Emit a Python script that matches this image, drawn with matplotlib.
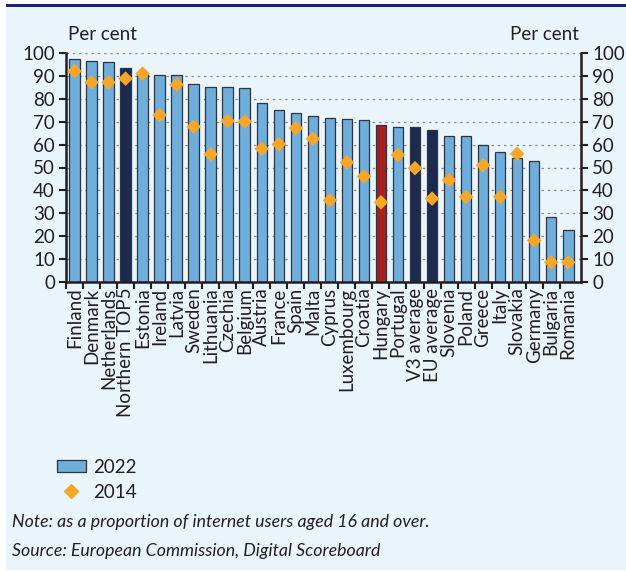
import matplotlib
matplotlib.use("Agg")
import matplotlib.pyplot as plt
from matplotlib.patches import Rectangle, Patch
from matplotlib.lines import Line2D
import numpy as np

plt.rcParams['font.family'] = ['Lato', 'DejaVu Sans']

countries = ["Finland", "Denmark", "Netherlands", "Northern TOP5", "Estonia", "Ireland",
             "Latvia", "Sweden", "Lithuania", "Czechia", "Belgium", "Austria", "France",
             "Spain", "Malta", "Cyprus", "Luxembourg", "Croatia", "Hungary", "Portugal",
             "V3 average", "EU average", "Slovenia", "Poland", "Greece", "Italy",
             "Slovakia", "Germany", "Bulgaria", "Romania"]
values_2022 = [97.4, 96.5, 95.9, 93.6, 91.0, 90.2, 90.2, 86.3, 85.3, 85.1, 84.5, 78.0,
               75.1, 73.6, 72.4, 71.4, 71.1, 70.6, 68.4, 67.9, 67.6, 66.3, 63.8, 63.8,
               59.8, 56.9, 54.1, 52.9, 28.3, 22.6]
values_2014 = [92.1, 87.2, 87.2, 88.8, 91.0, 72.9, 86.2, 67.8, 55.8, 70.3, 70.1, 58.2,
               60.2, 67.2, 62.5, 35.7, 52.3, 46.1, 34.8, 55.5, 49.7, 36.4, 44.5, 37.2,
               51.0, 37.2, 56.0, 18.1, 8.6, 8.6]
yticks = list(range(0, 101, 10))

LIGHT = "#6FAEDB"
NAVY = "#1B2A4E"
RED = "#A8201F"
ORANGE = "#F7A628"
BG = "#EAF4FB"
TXT = "#231F20"
FS = 13.5

highlight = {"Northern TOP5": NAVY, "V3 average": NAVY, "EU average": NAVY, "Hungary": RED}
colors = [highlight.get(c, LIGHT) for c in countries]

fig = plt.figure(figsize=(6.26, 5.72), dpi=100)
W, H = 626, 572
fig.patches.append(Rectangle((6 / W, 2 / H), 1 - 6 / W, (H - 7 - 2) / H,
                             transform=fig.transFigure, facecolor=BG, edgecolor="none", zorder=-2))
fig.patches.append(Rectangle((6 / W, (H - 7) / H), 1 - 6 / W, 3 / H,
                             transform=fig.transFigure, facecolor="#1A2370", edgecolor="none", zorder=-1))

ax = fig.add_axes([66 / W, 1 - 282 / H, (581 - 66) / W, (282 - 53) / H])
ax.set_facecolor("none")
x = np.arange(len(countries))
ax.bar(x, values_2022, width=0.62, color=colors, edgecolor="#2E3440", linewidth=0.9, zorder=2)
ax.scatter(x, values_2014, marker="D", s=55, color=ORANGE, edgecolor="none", zorder=3)

ax.set_ylim(0, 100)
ax.set_xlim(-0.5, 29.75)
ax.set_yticks(yticks)
for yv in yticks[1:]:
    ax.axhline(yv, color="#8C8C8C", linestyle=(0, (2, 3)), linewidth=0.9, zorder=1)

ax.tick_params(axis="y", which="both", left=True, right=True, labelleft=True, labelright=True,
               direction="out", length=5, width=1.5, color=TXT, labelsize=FS, labelcolor=TXT, pad=3)
ax.set_xticks(x - 0.5, minor=False)
ax.set_xticks(x, minor=True)
ax.set_xticklabels([])
ax.set_xticklabels(countries, minor=True, rotation=90, fontsize=FS, color=TXT)
ax.tick_params(axis="x", which="major", direction="out", length=5, width=1.5, color=TXT)
ax.tick_params(axis="x", which="minor", length=0, pad=4)

ax.spines["top"].set_visible(False)
for side in ["left", "right", "bottom"]:
    ax.spines[side].set_linewidth(1.8)
    ax.spines[side].set_color(TXT)

fig.text(68 / W, 1 - 35 / H, "Per cent", fontsize=FS, color=TXT, va="center", ha="left")
fig.text(579 / W, 1 - 35 / H, "Per cent", fontsize=FS, color=TXT, va="center", ha="right")

handles = [Patch(facecolor=LIGHT, edgecolor="#2E3440", linewidth=0.9),
           Line2D([], [], marker="D", color=ORANGE, linestyle="none", markersize=7)]
fig.legend(handles, ["2022", "2014"], loc="upper left", bbox_to_anchor=(40 / W, 1 - 442 / H),
           frameon=False, fontsize=FS, handlelength=1.55, handleheight=0.6,
           labelspacing=0.42, handletextpad=0.4, labelcolor=TXT)

fig.text(12 / W, 1 - 522 / H, "Note: as a proportion of internet users aged 16 and over.",
         fontsize=12.8, style="italic", color=TXT, va="center", ha="left")
fig.text(12 / W, 1 - 551 / H, "Source: European Commission, Digital Scoreboard",
         fontsize=12.8, style="italic", color=TXT, va="center", ha="left")

fig.savefig("out.png", dpi=100)
